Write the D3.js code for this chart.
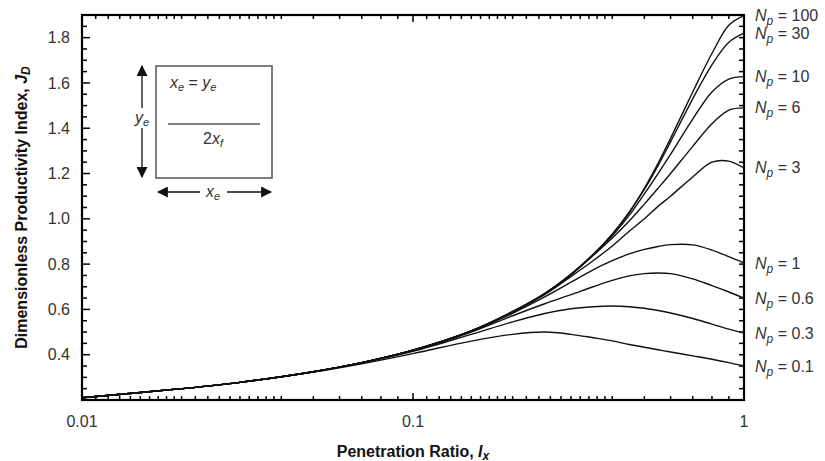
<!DOCTYPE html>
<html>
<head>
<meta charset="utf-8">
<script src="https://cdn.jsdelivr.net/npm/d3@7"></script>
<style>
  body { margin: 0; background: #fff; }
  svg { font-family: "Liberation Sans", Arial, Helvetica, sans-serif; }
</style>
</head>
<body>
<div id="chart"></div>
<script>
// Penetration ratio grid shared by every curve
const ixGrid = [0.01, 0.02, 0.03, 0.05, 0.07, 0.1, 0.15, 0.2, 0.25, 0.3, 0.35, 0.4, 0.45, 0.5, 0.55, 0.6, 0.7, 0.8, 0.9, 1.0];

// Dimensionless productivity index J_D, one array per proppant number
const jd100 = [0.21, 0.25, 0.278, 0.325, 0.365, 0.42, 0.505, 0.59, 0.67, 0.755, 0.842, 0.932, 1.03, 1.135, 1.245, 1.355, 1.56, 1.73, 1.855, 1.897];
const jd30 = [0.21, 0.25, 0.278, 0.325, 0.365, 0.42, 0.505, 0.59, 0.67, 0.755, 0.842, 0.932, 1.028, 1.13, 1.235, 1.34, 1.53, 1.68, 1.78, 1.82];
const jd10 = [0.21, 0.25, 0.278, 0.325, 0.365, 0.42, 0.505, 0.59, 0.67, 0.755, 0.84, 0.925, 1.015, 1.11, 1.2, 1.285, 1.44, 1.56, 1.617, 1.628];
const jd6 = [0.21, 0.25, 0.278, 0.325, 0.365, 0.42, 0.505, 0.59, 0.67, 0.752, 0.838, 0.915, 0.99, 1.065, 1.135, 1.2, 1.32, 1.42, 1.48, 1.49];
const jd3 = [0.21, 0.25, 0.278, 0.325, 0.365, 0.42, 0.505, 0.588, 0.665, 0.745, 0.815, 0.88, 0.945, 1.0, 1.055, 1.1, 1.185, 1.25, 1.255, 1.225];
const jd1 = [0.21, 0.25, 0.278, 0.325, 0.365, 0.42, 0.503, 0.583, 0.655, 0.72, 0.775, 0.815, 0.845, 0.865, 0.878, 0.886, 0.885, 0.862, 0.833, 0.805];
const jd06 = [0.21, 0.25, 0.278, 0.325, 0.365, 0.418, 0.5, 0.572, 0.625, 0.665, 0.7, 0.728, 0.748, 0.758, 0.761, 0.758, 0.735, 0.705, 0.677, 0.65];
const jd03 = [0.21, 0.25, 0.278, 0.325, 0.364, 0.415, 0.49, 0.545, 0.582, 0.603, 0.612, 0.615, 0.612, 0.605, 0.595, 0.584, 0.56, 0.535, 0.513, 0.496];
const jd01 = [0.21, 0.25, 0.278, 0.323, 0.36, 0.405, 0.46, 0.49, 0.5, 0.49, 0.475, 0.461, 0.445, 0.433, 0.422, 0.412, 0.395, 0.38, 0.365, 0.35];

const npLabels = ["100", "30", "10", "6", "3", "1", "0.6", "0.3", "0.1"];
const seriesValues = [jd100, jd30, jd10, jd6, jd3, jd1, jd06, jd03, jd01];

const xMajorTicks = [0.01, 0.1, 1];
const xTickLabels = ["0.01", "0.1", "1"];
const yMajorTicks = [0.4, 0.6, 0.8, 1.0, 1.2, 1.4, 1.6, 1.8];
const yTickLabels = ["0.4", "0.6", "0.8", "1.0", "1.2", "1.4", "1.6", "1.8"];

const width = 825, height = 461;
const margins = { top: 15, right: 81, bottom: 61, left: 82 };
const innerWidth = width - margins.left - margins.right;
const innerHeight = height - margins.top - margins.bottom;
const textColor = "#333";

const svg = d3.select("#chart").append("svg")
  .attr("width", width)
  .attr("height", height);

svg.append("defs").append("marker")
  .attr("id", "arrow")
  .attr("viewBox", "0 0 10 10")
  .attr("refX", 9).attr("refY", 5)
  .attr("markerWidth", 11).attr("markerHeight", 11)
  .attr("markerUnits", "userSpaceOnUse")
  .attr("orient", "auto-start-reverse")
  .append("path")
  .attr("d", "M0,0L10,5L0,10Z")
  .attr("fill", "#111");

const mainG = svg.append("g")
  .attr("transform", `translate(${margins.left},${margins.top})`);

const xScale = d3.scaleLog().domain([0.01, 1]).range([0, innerWidth]);
const yScale = d3.scaleLinear().domain([0.2, 1.9]).range([innerHeight, 0]);

// Minor log ticks: 0.1 steps from 1-2, 0.2 steps from 2-4, unit steps from 4-9 (per decade)
const xMinorTicks = [];
[0.01, 0.1].forEach((dec) => {
  for (let m = 1.1; m <= 2.001; m += 0.1) xMinorTicks.push(+(m * dec).toPrecision(3));
  for (let m = 2.2; m <= 4.001; m += 0.2) xMinorTicks.push(+(m * dec).toPrecision(3));
  for (let m = 5; m <= 9; m += 1) xMinorTicks.push(+(m * dec).toPrecision(3));
});
const yMinorTicks = d3.range(0.25, 1.9, 0.05).map((v) => +v.toFixed(2));

// Inward tick marks on all four sides
const ticksG = mainG.append("g").attr("class", "ticks")
  .attr("stroke", "#000").attr("stroke-width", 1.5);

const xTickMarks = [
  ...xMinorTicks.map((v) => ({ v, len: 4 })),
  ...xMajorTicks.map((v) => ({ v, len: 7 })),
];
ticksG.selectAll("line.xb")
  .data(xTickMarks)
  .join("line").attr("class", "xb")
  .attr("x1", (d) => xScale(d.v)).attr("x2", (d) => xScale(d.v))
  .attr("y1", innerHeight).attr("y2", (d) => innerHeight - d.len);
ticksG.selectAll("line.xt")
  .data(xTickMarks)
  .join("line").attr("class", "xt")
  .attr("x1", (d) => xScale(d.v)).attr("x2", (d) => xScale(d.v))
  .attr("y1", 0).attr("y2", (d) => d.len);

const yTickMarks = yMinorTicks.map((v) => ({
  v, len: yMajorTicks.some((m) => Math.abs(m - v) < 1e-6) ? 8 : 5,
}));
ticksG.selectAll("line.yl")
  .data(yTickMarks)
  .join("line").attr("class", "yl")
  .attr("y1", (d) => yScale(d.v)).attr("y2", (d) => yScale(d.v))
  .attr("x1", 0).attr("x2", (d) => d.len);
ticksG.selectAll("line.yr")
  .data(yMinorTicks)
  .join("line").attr("class", "yr")
  .attr("y1", (d) => yScale(d)).attr("y2", (d) => yScale(d))
  .attr("x1", innerWidth).attr("x2", innerWidth - 5);

// Tick labels
mainG.append("g").attr("class", "x-labels")
  .selectAll("text")
  .data(xMajorTicks)
  .join("text")
  .attr("x", (d) => xScale(d))
  .attr("y", innerHeight + 21)
  .attr("dy", "0.35em")
  .attr("text-anchor", "middle")
  .attr("font-size", "16px")
  .attr("fill", textColor)
  .text((d, i) => xTickLabels[i]);

mainG.append("g").attr("class", "y-labels")
  .selectAll("text")
  .data(yMajorTicks)
  .join("text")
  .attr("x", -12)
  .attr("y", (d) => yScale(d))
  .attr("dy", "0.35em")
  .attr("text-anchor", "end")
  .attr("font-size", "16px")
  .attr("fill", textColor)
  .text((d, i) => yTickLabels[i]);

// Frame
mainG.append("rect")
  .attr("width", innerWidth)
  .attr("height", innerHeight)
  .attr("fill", "none")
  .attr("stroke", "#000")
  .attr("stroke-width", 2.2);

// Curves
const line = d3.line()
  .x((d) => xScale(d.ix))
  .y((d) => yScale(d.jd))
  .curve(d3.curveCatmullRom.alpha(0.5));

const series = seriesValues.map((vals, i) => ({
  label: npLabels[i],
  points: vals.map((v, j) => ({ ix: ixGrid[j], jd: v })),
}));

mainG.append("g").attr("class", "curves")
  .selectAll("path")
  .data(series)
  .join("path")
  .attr("d", (d) => line(d.points))
  .attr("fill", "none")
  .attr("stroke", "#111")
  .attr("stroke-width", 1.4);

// Curve labels
const labelG = mainG.append("g").attr("class", "np-labels")
  .selectAll("text")
  .data(series)
  .join("text")
  .attr("x", innerWidth + 11)
  .attr("y", (d) => yScale(d.points[d.points.length - 1].jd))
  .attr("dy", "0.35em")
  .attr("font-size", "16px")
  .attr("fill", textColor);
labelG.append("tspan").attr("font-style", "italic").text("N");
labelG.append("tspan").attr("font-style", "italic").attr("font-size", "12px").attr("dy", 4).text("p");
labelG.append("tspan").attr("dy", -4).text((d) => " = " + d.label);

// Axis titles
const xTitle = svg.append("text")
  .attr("x", margins.left + innerWidth / 2)
  .attr("y", 457)
  .attr("text-anchor", "middle")
  .attr("font-size", "16px")
  .attr("font-weight", "bold")
  .attr("fill", "#111");
xTitle.append("tspan").text("Penetration Ratio, ");
xTitle.append("tspan").attr("font-style", "italic").text("I");
xTitle.append("tspan").attr("font-style", "italic").attr("font-size", "12px").attr("dy", 3).text("x");

const yTitle = svg.append("text")
  .attr("transform", `translate(27,${margins.top + innerHeight / 2}) rotate(-90)`)
  .attr("text-anchor", "middle")
  .attr("font-size", "16px")
  .attr("font-weight", "bold")
  .attr("fill", "#111");
yTitle.append("tspan").text("Dimensionless Productivity Index, ");
yTitle.append("tspan").attr("font-style", "italic").text("J");
yTitle.append("tspan").attr("font-style", "italic").attr("font-size", "12px").attr("dy", 3).text("D");

// Inset sketch of the square drainage area
const inset = svg.append("g").attr("class", "inset");
inset.append("rect")
  .attr("x", 156).attr("y", 66)
  .attr("width", 116).attr("height", 112)
  .attr("fill", "none")
  .attr("stroke", "#555")
  .attr("stroke-width", 1.5);
inset.append("line")
  .attr("x1", 168).attr("x2", 260).attr("y1", 124).attr("y2", 124)
  .attr("stroke", "#555").attr("stroke-width", 1.3);

const eqText = inset.append("text")
  .attr("x", 170).attr("y", 88)
  .attr("font-size", "16px").attr("font-style", "italic").attr("fill", textColor);
eqText.append("tspan").text("x");
eqText.append("tspan").attr("font-size", "11px").attr("dy", 3).text("e");
eqText.append("tspan").attr("dy", -3).attr("font-style", "normal").text(" = ");
eqText.append("tspan").text("y");
eqText.append("tspan").attr("font-size", "11px").attr("dy", 3).text("e");

const fracText = inset.append("text")
  .attr("x", 213).attr("y", 144)
  .attr("text-anchor", "middle")
  .attr("font-size", "16px").attr("fill", textColor);
fracText.append("tspan").text("2");
fracText.append("tspan").attr("font-style", "italic").text("x");
fracText.append("tspan").attr("font-style", "italic").attr("font-size", "11px").attr("dy", 3).text("f");

// vertical arrow with y_e label
inset.append("line")
  .attr("x1", 142).attr("x2", 142).attr("y1", 108).attr("y2", 66)
  .attr("stroke", "#111").attr("stroke-width", 1.3).attr("marker-end", "url(#arrow)");
inset.append("line")
  .attr("x1", 142).attr("x2", 142).attr("y1", 128).attr("y2", 177)
  .attr("stroke", "#111").attr("stroke-width", 1.3).attr("marker-end", "url(#arrow)");
const yeText = inset.append("text")
  .attr("x", 142).attr("y", 123)
  .attr("text-anchor", "middle")
  .attr("font-size", "16px").attr("font-style", "italic").attr("fill", textColor);
yeText.append("tspan").text("y");
yeText.append("tspan").attr("font-size", "11px").attr("dy", 3).text("e");

// horizontal arrow with x_e label
inset.append("line")
  .attr("x1", 200).attr("x2", 158).attr("y1", 192).attr("y2", 192)
  .attr("stroke", "#111").attr("stroke-width", 1.3).attr("marker-end", "url(#arrow)");
inset.append("line")
  .attr("x1", 227).attr("x2", 271).attr("y1", 192).attr("y2", 192)
  .attr("stroke", "#111").attr("stroke-width", 1.3).attr("marker-end", "url(#arrow)");
const xeText = inset.append("text")
  .attr("x", 213).attr("y", 197)
  .attr("text-anchor", "middle")
  .attr("font-size", "16px").attr("font-style", "italic").attr("fill", textColor);
xeText.append("tspan").text("x");
xeText.append("tspan").attr("font-size", "11px").attr("dy", 3).text("e");
</script>
</body>
</html>
